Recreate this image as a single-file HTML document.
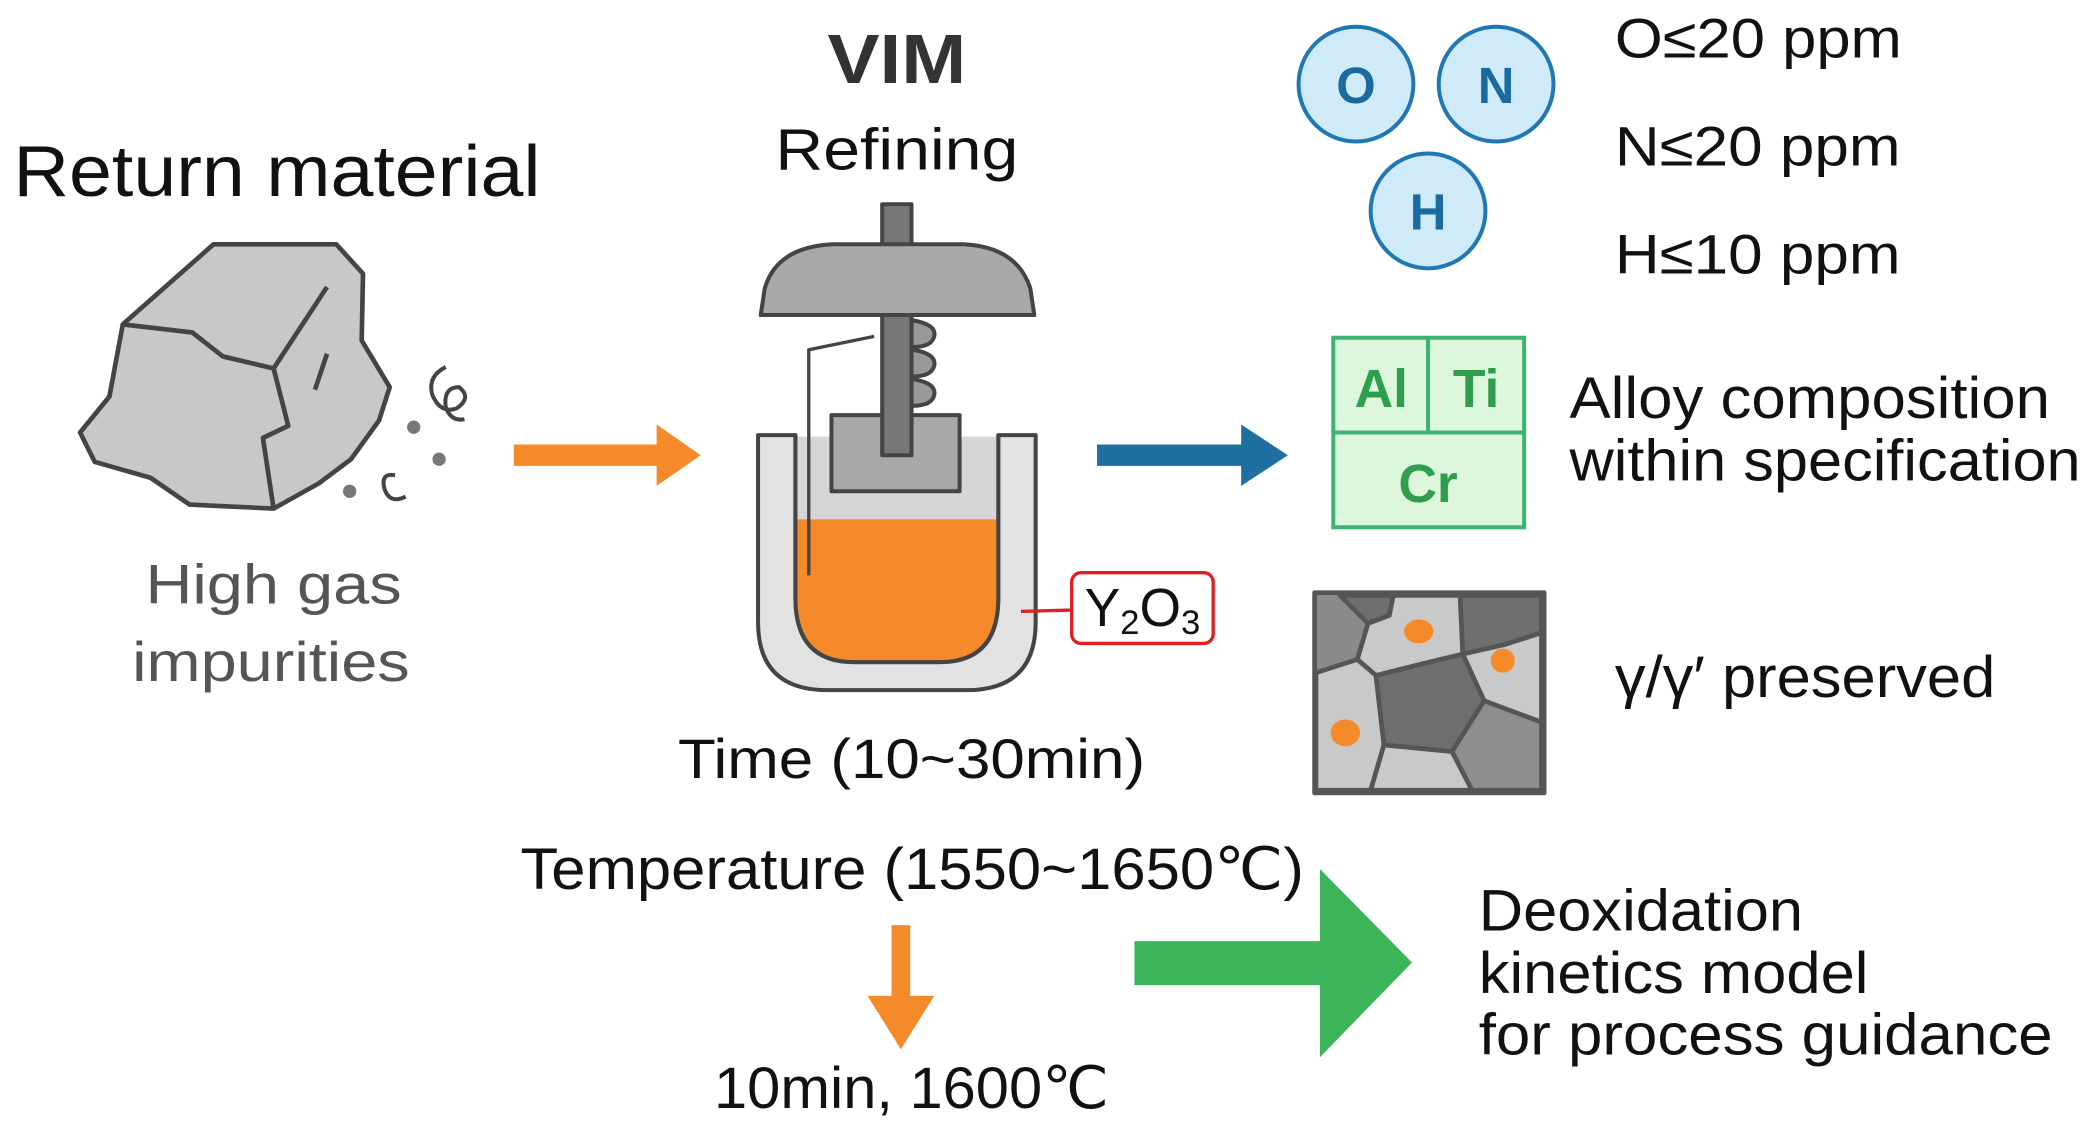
<!DOCTYPE html>
<html><head><meta charset="utf-8"><style>
html,body{margin:0;padding:0;background:#fff;}
svg{display:block;}
text{font-family:"Liberation Sans",Arial,sans-serif;}
</style></head><body>
<svg width="2082" height="1124" viewBox="0 0 1560 842" preserveAspectRatio="none" xmlns="http://www.w3.org/2000/svg">
<rect width="1560" height="842" fill="#fff"/>
<!-- Return material -->
<text x="10" y="147" font-size="54" fill="#111" textLength="395" lengthAdjust="spacingAndGlyphs">Return material</text>
<!-- rock -->
<g stroke="#444" stroke-width="3.5" fill="none" stroke-linejoin="round">
<polygon points="160,183 252,183 272,205 271,255 292,290 284,315 263,344 239,362 205,381 142,378 113,358 71,346 60,324 82,297 92,243" fill="#c8c8c8"/>
<polyline points="92,243 144,249 167,267 205,276 245,215"/>
<polyline points="205,276 216,319 197,328 205,381"/>
<line x1="245" y1="265" x2="236" y2="292"/>
<path d="M334,275 Q320,282 324,296 Q330,310 342,306 Q354,298 344,290 Q332,290 334,305 Q338,316 348,314" stroke-width="3"/>
<path d="M296,356 Q285,354 288,366 Q292,378 304,372" stroke-width="3"/>
</g>
<circle cx="310" cy="320" r="5" fill="#777"/>
<circle cx="329" cy="344" r="5" fill="#777"/>
<circle cx="262" cy="368" r="5" fill="#777"/>
<text x="205" y="452" font-size="42" fill="#555" text-anchor="middle" textLength="192" lengthAdjust="spacingAndGlyphs">High gas</text>
<text x="203" y="510" font-size="42" fill="#555" text-anchor="middle" textLength="208" lengthAdjust="spacingAndGlyphs">impurities</text>
<!-- orange arrow -->
<polygon points="385,333 492,333 492,318 525,341 492,364 492,349 385,349" fill="#f58a2a"/>
<!-- VIM -->
<text x="672" y="62" font-size="52" font-weight="bold" fill="#333" text-anchor="middle" textLength="104" lengthAdjust="spacingAndGlyphs">VIM</text>
<text x="672" y="127" font-size="44" fill="#111" text-anchor="middle" textLength="182" lengthAdjust="spacingAndGlyphs">Refining</text>
<!-- furnace -->
<g stroke="#444" stroke-width="3" stroke-linejoin="round">
<path d="M568,326 L568,466 Q568,517 620,517 L724,517 Q776,517 776,466 L776,326 L748,326 L748,448 Q748,496 704,496 L640,496 Q596,496 596,448 L596,326 Z" fill="#e2e2e2"/>
<rect x="597" y="327" width="150" height="62" fill="#d6d6d6" stroke="none"/>
<path d="M597,389 L747,389 L747,448 Q747,495 704,495 L640,495 Q597,495 597,448 Z" fill="#f58a2a" stroke="none"/>
<path d="M596,326 L596,448 Q596,496 640,496 L704,496 Q748,496 748,448 L748,326" fill="none"/>
<rect x="623" y="311" width="96" height="57" fill="#a9a9a9"/>
<path d="M684,240 q18,3 16,12 q-2,8 -16,8 M684,262 q18,3 16,12 q-2,8 -16,8 M684,284 q18,3 16,12 q-2,8 -16,8" fill="#999"/>
<rect x="661" y="236" width="22" height="105" fill="#777"/>
<rect x="661" y="153" width="22" height="32" fill="#777"/>
<path d="M570,236 L775,236 L772,216 Q762,185 722,183 L624,183 Q582,185 573,216 Z" fill="#a9a9a9"/>
<polyline points="606,431 606,262 655,252" fill="none" stroke-width="2.5"/>
</g>
<!-- Y2O3 -->
<line x1="765" y1="458" x2="803" y2="457" stroke="#e02020" stroke-width="2.5"/>
<rect x="803" y="429" width="106" height="53" rx="7" fill="#fff" stroke="#e02020" stroke-width="2.5"/>
<text x="856" y="469" font-size="40" fill="#111" text-anchor="middle">Y<tspan font-size="26" dy="6">2</tspan><tspan dy="-6">O</tspan><tspan font-size="26" dy="6">3</tspan></text>
<text x="683" y="583" font-size="42" fill="#111" text-anchor="middle" textLength="350" lengthAdjust="spacingAndGlyphs">Time (10~30min)</text>
<!-- blue arrow -->
<polygon points="822,333 930,333 930,318 965,341 930,364 930,349 822,349" fill="#1f6fa0"/>
<!-- gas circles -->
<g stroke="#1f78b4" stroke-width="3" fill="#cfeaf8">
<circle cx="1016" cy="63" r="43"/><circle cx="1121" cy="63" r="43"/><circle cx="1070" cy="158" r="43"/>
</g>
<g font-size="38" font-weight="bold" fill="#1a6aa0" text-anchor="middle">
<text x="1016" y="77">O</text><text x="1121" y="77">N</text><text x="1070" y="172">H</text>
</g>
<g font-size="42" fill="#111">
<text x="1210" y="43" textLength="215" lengthAdjust="spacingAndGlyphs">O≤20 ppm</text>
<text x="1210" y="124" textLength="214" lengthAdjust="spacingAndGlyphs">N≤20 ppm</text>
<text x="1210" y="205" textLength="214" lengthAdjust="spacingAndGlyphs">H≤10 ppm</text>
</g>
<!-- alloy box -->
<g stroke="#3cb371" stroke-width="3" fill="#dcf7dc">
<rect x="999" y="253" width="143" height="142"/>
<line x1="1070" y1="253" x2="1070" y2="324"/><line x1="999" y1="324" x2="1142" y2="324"/>
</g>
<g font-size="40" font-weight="bold" fill="#2e9e4c" text-anchor="middle">
<text x="1035" y="305">Al</text><text x="1106" y="305">Ti</text><text x="1070" y="376">Cr</text>
</g>
<text x="1176" y="313" font-size="44" fill="#111" textLength="360" lengthAdjust="spacingAndGlyphs">Alloy composition</text>
<text x="1176" y="360" font-size="44" fill="#111" textLength="383" lengthAdjust="spacingAndGlyphs">within specification</text>
<!-- microstructure -->
<g stroke="#555" stroke-width="3.5" stroke-linejoin="round">
<rect x="985" y="444" width="172" height="150" fill="#8a8a8a"/>
<polygon points="1004,446 1044,446 1041,461 1025,467" fill="#6f6f6f"/>
<polygon points="1094,446 1155,446 1155,474 1127,483 1096,490" fill="#6f6f6f"/>
<polygon points="1025,467 1041,461 1044,446 1094,446 1096,490 1071,496 1031,506 1017,494" fill="#c9c9c9"/>
<polygon points="1096,490 1127,483 1155,474 1155,541 1112,525" fill="#c9c9c9"/>
<polygon points="986,504 1017,494 1031,506 1037,558 1027,592 986,592" fill="#c9c9c9"/>
<polygon points="1037,558 1088,563 1103,592 1027,592" fill="#c9c9c9"/>
<polygon points="1031,506 1071,496 1096,490 1112,525 1088,563 1037,558" fill="#6e6e6e"/>
<polygon points="1112,525 1155,541 1155,592 1103,592 1088,563" fill="#8e8e8e"/>
</g>
<g fill="#f58a2a">
<ellipse cx="1063" cy="473" rx="11" ry="9"/><ellipse cx="1126" cy="495" rx="9" ry="9"/><ellipse cx="1008" cy="549" rx="11" ry="10"/>
</g>
<text x="1210" y="522" font-size="44" fill="#111" textLength="285" lengthAdjust="spacingAndGlyphs">γ/γ′ preserved</text>
<!-- bottom -->
<text x="390" y="666" font-size="44" fill="#111" textLength="587" lengthAdjust="spacingAndGlyphs">Temperature (1550~1650℃)</text>
<polygon points="668,693 682,693 682,746 700,746 675,786 650,746 668,746" fill="#f58a2a"/>
<text x="683" y="830" font-size="44" fill="#111" text-anchor="middle" textLength="296" lengthAdjust="spacingAndGlyphs">10min, 1600℃</text>
<polygon points="850,705 989,705 989,651 1058,721 989,792 989,738 850,738" fill="#3cb45a"/>
<g font-size="44" fill="#111">
<text x="1108" y="697" textLength="243" lengthAdjust="spacingAndGlyphs">Deoxidation</text>
<text x="1108" y="744" textLength="292" lengthAdjust="spacingAndGlyphs">kinetics model</text>
<text x="1108" y="790" textLength="430" lengthAdjust="spacingAndGlyphs">for process guidance</text>
</g>
</svg>
</body></html>
